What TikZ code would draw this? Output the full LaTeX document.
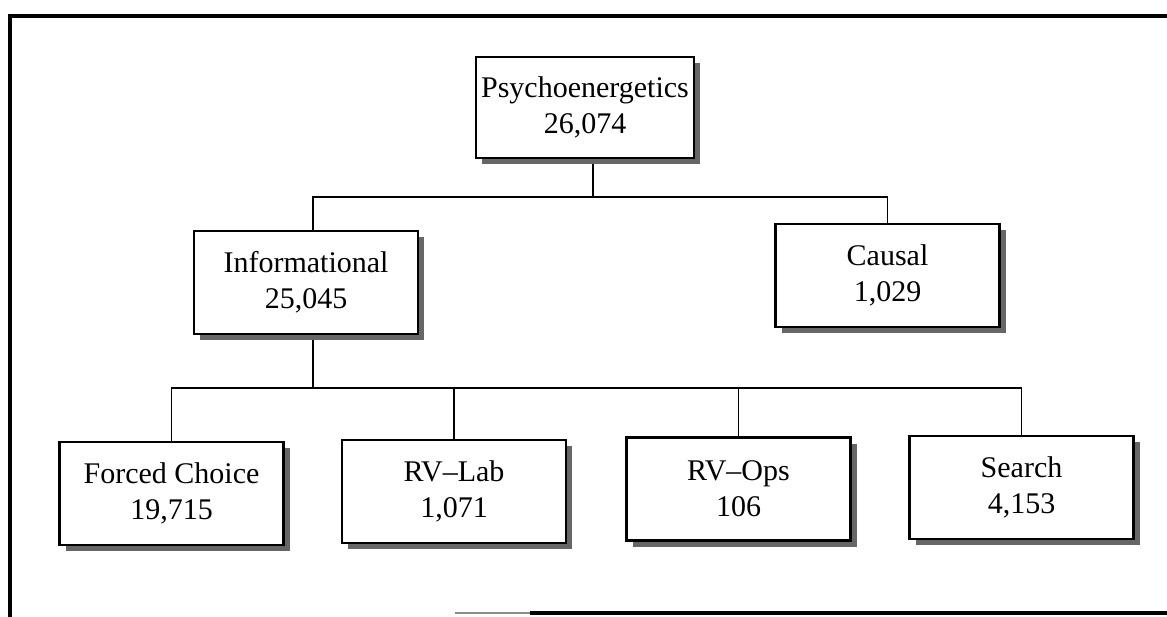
\documentclass[tikz,border=0pt]{standalone}
\usepackage{fontspec}
\setmainfont{Liberation Serif}
\usetikzlibrary{shadows}
\pgfdeclarelayer{background}
\pgfsetlayers{background,main}
\begin{document}
\begin{tikzpicture}[x=1pt,y=-1pt,
  box/.style={draw=black, line width=2.4pt, fill=white,
    minimum width=224pt, minimum height=103pt, align=center, inner sep=0pt,
    font=\fontsize{30}{36}\selectfont,
    drop shadow={shadow xshift=6pt, shadow yshift=-6pt, fill=black!60, opacity=1}},
  link/.style={draw=black, line width=1.8pt},
  framestyle/.style={draw=black, line width=4.5pt}]
\useasboundingbox (0,0) rectangle (1167,617);

% outer frame (open on the right)
\draw[framestyle] (10,617) -- (10,16) -- (1167,16);
\draw[draw=black!45, line width=2pt] (455,613) -- (530,613);
\draw[framestyle] (530,613) -- (1167,613);

% boxes
\node[box, minimum width=218pt, minimum height=101pt] (P) at (585,107.5) {Psychoenergetics\\26,074};
\node[box] (I) at (306,282.5) {Informational\\25,045};
\node[box] (C) at (887.5,275.5) {Causal\\1,029};
\node[box] (F) at (171.5,493.5) {Forced Choice\\19,715};
\node[box] (L) at (454,491.5) {RV--Lab\\1,071};
\node[box] (O) at (738.5,489) {RV--Ops\\106};
\node[box] (S) at (1021.5,487.5) {Search\\4,153};

% connectors
\coordinate (j1) at (593,197);
\coordinate (j2) at (313,388);
\begin{pgfonlayer}{background}
\draw[link] (P.south -| j1) -- (j1);
\draw[link] ([xshift=7pt]I.north) |- (C.north |- j1) -- (C.north);
\draw[link] ([xshift=7pt]I.south) -- (j2);
\draw[link] (F.north) |- (S.north |- j2) -- (S.north);
\draw[link] (L.north) -- (L.north |- j2);
\draw[link] (O.north) -- (O.north |- j2);
\end{pgfonlayer}
\end{tikzpicture}
\end{document}
